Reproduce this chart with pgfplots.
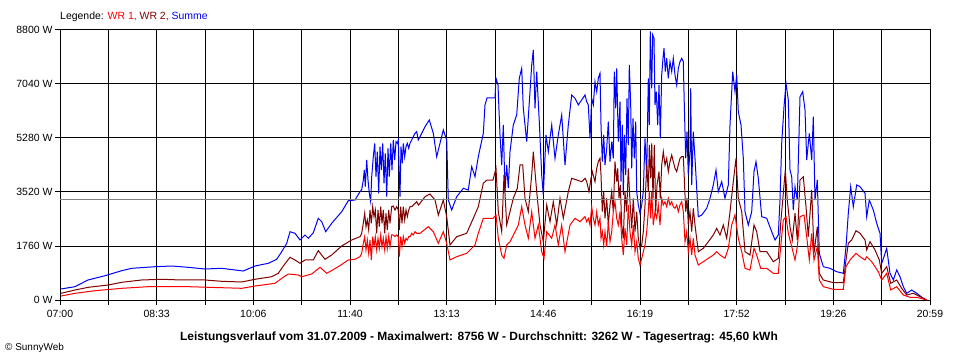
\documentclass[border=0pt]{standalone}
\usepackage{pgfplots}
\pgfplotsset{compat=1.18}
\usepackage{fontspec}
\setmainfont{Liberation Sans}
\definecolor{wrone}{RGB}{255,0,0}
\definecolor{wrtwo}{RGB}{128,0,0}
\definecolor{summe}{RGB}{0,0,255}
\definecolor{avg}{RGB}{128,128,128}
\begin{document}
\begin{tikzpicture}[x=1bp,y=1bp]
\useasboundingbox (0,0) rectangle (960,360);
\begin{axis}[
  at={(60bp,60bp)}, anchor=south west,
  scale only axis, width=870bp, height=270bp,
  xmin=0, xmax=870, ymin=0, ymax=8800,
  xtick={0,48.33,96.67,145,193.33,241.67,290,338.33,386.67,435,483.33,531.67,580,628.33,676.67,725,773.33,821.67,870},
  xticklabels={07:00,,08:33,,10:06,,11:40,,13:13,,14:46,,16:19,,17:52,,19:26,,20:59},
  ytick={0,1760,3520,5280,7040,8800},
  yticklabels={0 W,1760 W,3520 W,5280 W,7040 W,8800 W},
  grid=major, major grid style={black, line width=1bp},
  axis line style={black, line width=1bp},
  tick style={black, line width=1bp},
  tick align=outside, major tick length=5bp,
  tick pos=left,
  ticklabel style={font=\fontsize{10.5}{12}\selectfont},
  xticklabel style={yshift=-2bp},
  yticklabel style={xshift=1bp},
  clip=true,
]
\addplot[summe, line width=1bp] coordinates {(1,359)(15,434)(28,652)(45,792)(61.7,955)(71.7,1033)(95,1085)(111.7,1108)(128,1066)(145,1010)(161.7,1033)(175,978)(183.3,945)(195,1108)(208.3,1196)(216.7,1327)(221.7,1574)(226.7,1848)(230,2226)(235,2174)(240,1956)(245,2119)(248.3,2011)(253.3,2193)(258.3,2663)(261.7,2552)(265.7,2226)(271.7,2500)(281.7,2878)(288.3,3236)(295,3259)
(300,3530)(301.7,3600)(303.3,3911)(304.3,4237)(305.3,3693)(306.7,4563)(308,3911)(309.3,3478)(310.7,3204)(311.7,4019)(313.3,4671)(314.7,5107)(316,4019)(317.3,4834)(318.7,3478)(320,4997)(321.3,4237)(322.7,5107)(324,3804)(325.3,4780)(326.7,3367)(328,4943)(329.3,4019)(330.7,5107)(332,4237)(333.3,5215)(334.7,4563)(336,5160)(337.3,5107)(338.3,5215)(339.3,4019)(340,3367)(341,4997)(342.3,4455)(343.3,5107)(344.7,4671)(346,4997)(347.3,5107)(348.7,4943)(350,5107)(351.7,5215)(353.3,5324)(355,5433)(356.7,5486)(358.3,5215)(360,5324)
(365,5649)(369.3,5867)(373.3,5433)(376.7,4671)(380,5107)(383.3,5541)(386.7,5215)(388.3,3259)(391.7,2933)(396.7,3367)(403.3,3641)(408.3,3585)(411.7,4345)(415,4019)(418.3,4671)(423.3,5433)(425,6356)(427,6584)(435,6584)(436,7226)(438,7007)(440,5378)(441.7,4400)(443.3,5704)(445,3530)(446.7,4400)(448.3,3650)(450,4834)(453.3,5704)(456.7,6030)(459.3,7226)(461.7,7552)(463.3,6248)(466.7,5160)(470,6789)(471.7,7659)(473.3,8148)(475,6248)(476.7,7441)(479.3,5811)(481.7,4074)(483.3,3422)(486,5378)(488.3,4834)(491.7,5704)(495,4618)(498.3,5378)(501.7,6030)(505,4400)(508.3,5704)(511.7,6682)(515,6574)(518.3,6356)
(525,6682)(526.7,6463)(528.3,6356)(530,5270)(531.7,6574)(533.3,6356)(535,7115)(536.7,6789)(538.3,7226)(540,7389)(541,5704)(542.3,4508)(543.7,5378)(545,4400)(546.7,4944)(548.3,5811)(550,4508)(551.7,5160)(553.3,4618)(554.3,7441)(555.7,6248)(556.7,7552)(558.3,5160)(560,6463)(561,3856)(562.3,5704)(563.3,3422)(564.3,5378)(565.7,4074)(567,6574)(568.3,5052)(569.3,7659)(570.7,6356)(571.7,4292)(573,5922)(574.3,4618)(575.7,5811)(576.7,3530)(578.3,3096)(580,2826)(581.7,3096)(583.3,3530)(585,5270)(586.7,4074)(588.3,7226)(589.3,5704)(590.3,8756)(591.7,6900)(592.7,8637)(594,8530)(595,6356)(596.3,6789)(597.7,5704)(599,7007)(600.3,5270)(601.7,7333)(603,7878)(604,8204)(605.3,7441)(606.7,7878)(608.3,7226)(610,7767)(611.7,7441)(613.3,7878)(615,7333)(616.7,7007)(618.3,7552)(620,7767)(621.7,7878)(623.3,7767)(624.3,6356)(625.7,4618)(627,5485)(628.3,4074)(630,4834)(630.7,6900)(631.7,3748)(633.3,5485)(635,4618)
(638.3,2715)(641.7,2770)(646.7,2989)(650,3315)(653.3,3748)(656,4237)(658.3,3530)(661.7,3856)(665,3315)(668.3,3748)(670,5704)(672.7,7441)(675,6789)(676.7,7333)(678.3,6137)(681,5704)(683.3,4618)(685,2878)(688.3,2444)(691.7,2878)(694,4182)(696,4508)(698.3,3967)(701.7,2715)(706.7,2663)(711.7,2226)(715,1956)(718.3,2119)(720,3259)(721.7,5107)(724,6300)(726,7063)(728.3,6519)(730,4237)(731.7,4019)(733.3,2933)(735,3693)(737.3,3259)(740,6626)(742.7,6789)(745,6193)(746.7,4563)(749.3,5433)(751.7,4563)(753.3,5974)(755,3259)(757.3,3911)(759.3,1522)(763.3,1085)(770,1033)(776.7,922)(783.3,870)(786,1737)(788.3,2826)(790.7,3693)(793.3,3041)(796.7,3748)(800,3693)(805,3478)(806.7,2715)(809.3,3259)(813.3,2933)(816.7,2500)(820,2174)(821.7,1196)(824,1411)(826.7,1685)(830,870)(833.3,652)(836.7,978)(840,759)(843.3,434)(846.7,218)(851.7,326)(856.7,218)(863.3,55)(866.7,0)};
\addplot[wrtwo, line width=1bp] coordinates {(1,218)(15,326)(28.3,414)(48.3,489)(61.7,577)(81.7,652)(101.7,675)(121.7,652)(145,652)(161.7,609)(181.7,587)(195,675)(211.7,759)(218.3,870)(223.3,1108)(230,1392)(235,1304)(240,1196)(245,1304)(253.3,1304)(258.3,1607)(265,1327)(271.7,1467)(281.7,1760)(291.7,1956)
(300,2063)(301.7,2174)(303.3,2500)(304.7,2826)(306,2389)(307.3,2607)(308.7,2282)(310,2933)(311.3,2500)(312.7,3041)(314,2715)(315.3,2933)(316.7,2174)(318,2933)(319.3,2389)(320.7,3041)(322,2500)(323.3,2933)(324.7,2174)(326,2826)(327.3,2282)(328.7,2933)(330,2500)(331.7,3041)(333.3,3063)(335,2933)(336.7,3041)(338.3,2933)(339.3,2282)(340.7,3041)(342,2500)(343.3,3041)(344.7,2607)(346,2933)(347.3,2715)(348.7,2933)(350,3041)(351.7,3041)(353.3,3096)(355,3152)(356.7,3204)(358.3,3096)(360,3152)
(365,3367)(370,3455)(375,3259)(378.3,2770)(383.3,3259)(386.7,2715)(390,1793)(396.7,2063)(406.7,2174)(413.3,2663)(418.3,3041)(423.3,3804)(427,3911)(433,3911)(436,4292)(438.3,2878)(441.7,2226)(444,4074)(446.7,2444)(450,2878)(453.3,3315)(457.3,3641)(460,4400)(462.7,4400)(465,3315)(468.3,2878)(471.7,4074)(473.3,4834)(476.7,3530)(480,2444)(483.3,1900)(486.7,3096)(490,2552)(493.3,3204)(496.7,2444)(500,3315)(503.3,2663)(508.3,3530)(511.7,3967)(516.7,3911)(521.7,3856)
(525,3967)(526.7,3856)(529,3530)(531,3967)(532.3,4182)(535,3856)(536.7,4292)(538.3,4508)(540,4618)(541,4074)(542.3,2878)(543.7,3530)(545,2663)(546.7,3315)(548.3,2444)(550,3096)(551.7,3530)(553.3,2878)(555,4508)(556.7,3856)(557.7,4292)(559,3315)(560.3,3748)(561.7,2444)(563.3,2011)(565,3530)(566.7,2878)(568.3,4292)(570,3204)(571.7,2337)(573.3,3315)(575,2226)(576.7,2878)(578.3,2011)(580,1685)(581.7,1793)(583.3,2226)(585,3096)(586.7,4400)(588.3,3530)(589.3,5052)(590.7,3967)(591.7,5107)(593,3315)(594.3,5052)(595.7,2878)(597,3748)(599,4182)(600.3,3315)(601.7,4400)(603.3,4834)(605,4400)(606.7,4618)(608.3,4182)(610,4508)(611.7,4726)(613.3,4508)(615,4292)(616.7,4182)(618.3,4400)(620,4618)(621.7,4671)(623.3,4671)(624.3,3967)(625.7,2878)(627,3315)(628.3,2444)(630,2878)(631.7,2226)(633.3,2989)(635,2444)
(638.3,1574)(643.3,1685)(648.3,1900)(653.3,2119)(656.7,2337)(660,2119)(663.3,2444)(666.7,2011)(670,2878)(673.3,3856)(676,4618)(678.3,3315)(681.7,2878)(685,1574)(690,1467)(694,2444)(696.7,2226)(700,1574)(706.7,1574)(713.3,1248)(718.3,1359)(720.7,2500)(723.3,3478)(725.3,4237)(727.3,3259)(730,2389)(732.3,1956)(735,2826)(737.3,1956)(740,3911)(743.3,4019)(746,3041)(748.3,2063)(751.7,3585)(754,1522)(757.3,2389)(759.3,870)(763.3,652)(773.3,564)(783.3,564)(786,1304)(788.3,1848)(791.7,1956)(796,2259)(800,2174)(805,1956)(806.7,1630)(810,1900)(815,1630)(819.3,1304)(821.7,870)(826.7,1085)(830.7,544)(836.7,652)(841.7,381)(846.7,163)(853.3,218)(860,108)(866.7,0)};
\addplot[wrone, line width=1bp] coordinates {(1,130)(15,218)(35,303)(61.7,381)(88.3,434)(128.3,434)(161.7,401)(181.7,381)(195,456)(215,544)(221.7,707)(228.3,847)(238.3,815)(241.7,759)(251.7,847)(260,1066)(266.7,870)(278.3,1085)(288.3,1304)(295,1327)
(300,1411)(301.7,1522)(303.3,1848)(304.7,2063)(306,1630)(307.3,1956)(308.7,1522)(310,1956)(311.3,1304)(312.7,2063)(314,1737)(315.3,2063)(316.7,1630)(318,2011)(319.3,1685)(320.7,2119)(322,1737)(323.3,2011)(324.7,1630)(326,2063)(327.3,1685)(328.7,2086)(330,1737)(331.7,2119)(333.3,2119)(335,2063)(336.7,2119)(338.3,2063)(339.3,1411)(340.7,2063)(342,1737)(343.3,2063)(344.7,1848)(346,2011)(347.3,1956)(348.7,2063)(350,2063)(351.7,2174)(353.3,2119)(355,2226)(356.7,2174)(358.3,2174)(360,2174)
(368.3,2389)(373.3,2226)(378.3,1848)(383.3,2226)(386.7,1848)(390,1304)(396.7,1411)(406.7,1522)(415,1793)(418.3,2174)(423.3,2663)(427,2663)(433,2663)(436,2770)(438.3,2011)(441.7,1467)(444,1359)(446.7,1793)(450,1900)(455,2226)(458.3,2444)(461.7,3041)(465,2444)(468.3,2011)(471.7,2878)(475,2011)(478.3,2444)(481.7,1574)(484,1359)(486.7,2226)(491.7,2011)(495,2444)(498.3,1793)(501.7,2444)(505,1574)(510,2444)(515,2663)(520,2552)
(525,2715)(526.7,2552)(528.3,2663)(530,2444)(531.7,3041)(533.3,2663)(535,2444)(536.7,2878)(538.3,2444)(540,2663)(541,2011)(542.3,2226)(543.7,1793)(545,2226)(546.7,1737)(548.3,2552)(550,1900)(551.7,2226)(553.3,2878)(555,3204)(556.7,2663)(558.3,2444)(560,2878)(561.7,2011)(563.3,1467)(565,2337)(566.7,1793)(568.3,3096)(570,2226)(571.7,1793)(573.3,2444)(575,1574)(576.7,1900)(578.3,1359)(580,1141)(581.7,1359)(583.3,1574)(585,1793)(586.7,2226)(588.3,2878)(589.3,3530)(590.7,2663)(591.7,3530)(593.3,2444)(595,2878)(596.7,2663)(598.3,3096)(600,2444)(601.7,3315)(603.3,3096)(605,3204)(606.7,3041)(608.3,3315)(610,3096)(611.7,3204)(613.3,3041)(615,2989)(616.7,3096)(618.3,2878)(620,3096)(621.7,3204)(623.3,2878)(625,1900)(626.7,2226)(628.3,1574)(630,2011)(631.7,1467)(633.3,2011)(635,1467)
(638.3,1141)(643.3,1248)(648.3,1359)(653.3,1467)(656.7,1574)(660,1467)(665,1359)(668.3,1685)(671.7,2444)(675,2770)(678.3,2011)(681.7,1574)(685,1033)(690,978)(694,1685)(696.7,1467)(700.7,1033)(706.7,1033)(713.3,870)(718.3,870)(720.7,1737)(723.3,2607)(726,2715)(728.3,2174)(731.7,1737)(735,1304)(737.3,1737)(740,2715)(744,2770)(746.7,2063)(749.3,1304)(751.7,2174)(754,1304)(757.3,1737)(759.3,652)(763.3,434)(773.3,349)(783.3,349)(786,1085)(790,1304)(796,1522)(800,1411)(805,1304)(806.7,1411)(811.7,1248)(818.3,922)(821.7,652)(826.7,870)(830.7,326)(836.7,434)(843.3,163)(850,88)(856.7,88)(866.7,0)};
\addplot[avg, line width=1bp] coordinates {(0,3262)(870,3262)};
\end{axis}
\node[anchor=west, inner sep=0pt, font=\fontsize{10.5}{12}\selectfont] at (60,343) {Legende: \textcolor{wrone}{WR 1,} \textcolor{wrtwo}{WR 2,} \textcolor{summe}{Summe}};
\node[anchor=center, inner sep=0pt, font=\fontsize{12}{14}\selectfont\bfseries] at (479,23) {Leistungsverlauf vom 31.07.2009 - Maximalwert: 8756 W - Durchschnitt: 3262 W - Tagesertrag: 45,60 kWh};
\node[anchor=west, inner sep=0pt, font=\fontsize{10}{12}\selectfont] at (5,12) {\textcopyright{} SunnyWeb};
\end{tikzpicture}
\end{document}
